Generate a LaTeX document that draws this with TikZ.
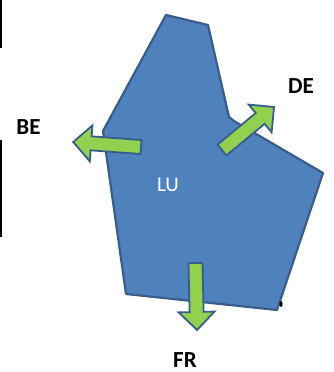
\documentclass[tikz,border=0pt]{standalone}
\usepackage{fontspec}
\setmainfont{Carlito}
\definecolor{lublue}{HTML}{4F81BD}
\definecolor{luedge}{HTML}{385D8A}
\definecolor{arrgreen}{HTML}{92D050}
\tikzset{
  country/.style={fill=lublue, draw=luedge, line width=2.2pt, line join=round},
  blockarrow/.style={fill=arrgreen, draw=luedge, line width=1.8pt, line join=miter},
  lbl/.style={font=\bfseries\fontsize{23}{23}\selectfont, text=black, inner sep=0pt},
  edgeline/.style={line width=1.5pt, black}
}
\newcommand{\greenarrow}[5]{% x y page-angle length name
  \begin{scope}[shift={(#1,#2)}, rotate=#3]
    \draw[blockarrow] (0,-7) -- ({#4-18},-7) -- ({#4-18},-18) -- (#4,0) -- ({#4-18},18) -- ({#4-18},7) -- (0,7) -- cycle;
    \coordinate (#5) at (#4,0);
  \end{scope}}
\begin{document}
\begin{tikzpicture}[x=1pt,y=-1pt]
\useasboundingbox (0,0) rectangle (334,372);
% left margin lines
\draw[edgeline] (0.75,0) -- (0.75,48);
\draw[edgeline] (0.75,140) -- (0.75,237);
% country shape
\draw[country] (166,15) -- (208,25) -- (229,117) -- (234,121) -- (323,173) -- (277,310) -- (126,294) -- (103,131) -- cycle;
\fill[black] (281,304) ellipse (1.6 and 3);
% arrows
\greenarrow{141}{147}{175.8}{68}{tipBE}
\greenarrow{222}{150}{39.6}{67.5}{tipDE}
\greenarrow{195.5}{263}{-88.7}{67}{tipFR}
% labels
\node[lbl] (BE) at (28.5,127) {BE};
\node[lbl] (DE) at (301,86.5) {DE};
\node[lbl, anchor=north] (FR) at (185,352) {FR};
\node[inner sep=0pt, text=white, font=\fontsize{21}{21}\selectfont] (LU) at (168,184.5) {LU};
\end{tikzpicture}
\end{document}
